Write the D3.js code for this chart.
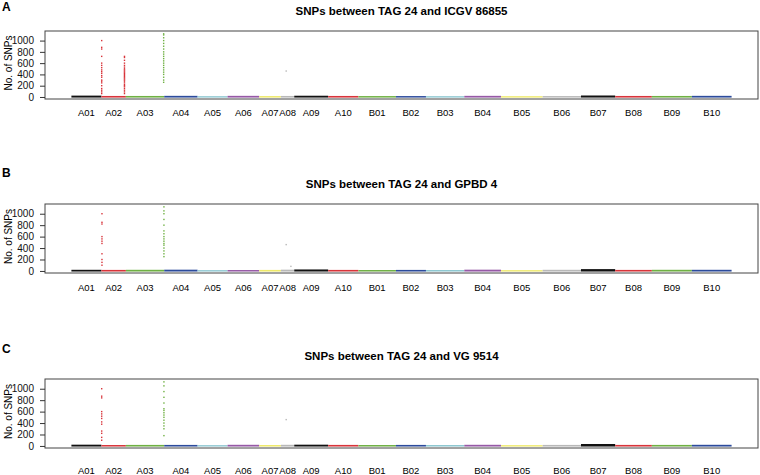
<!DOCTYPE html>
<html>
<head>
<meta charset="utf-8">
<script src="https://cdn.jsdelivr.net/npm/d3@7"></script>
<style>
  body { margin: 0; background: #fff; }
  svg { font-family: "Liberation Sans", Arial, Helvetica, sans-serif; }
  .axis path, .axis line { stroke: #333; }
  .axis text { font-size: 10px; fill: #111; }
</style>
</head>
<body>
<div id="chart"></div>
<script>
// chromosomes and their lengths (Mb)
const chroms = ["A01","A02","A03","A04","A05","A06","A07","A08","A09","A10",
                "B01","B02","B03","B04","B05","B06","B07","B08","B09","B10"];
const lengths = [108, 88, 138, 120, 108, 114, 78, 48, 122, 109,
                 135, 108, 138, 132, 150, 138, 123, 132, 144, 143];
const chromColors = ["#111111","#d8343a","#6fb043","#2c4b9c","#8cc6d0","#9659a6","#eee96a","#b8b8b8",
                     "#111111","#d8343a","#6fb043","#2c4b9c","#8cc6d0","#9659a6","#eee96a","#b8b8b8",
                     "#111111","#d8343a","#6fb043","#2c4b9c"];
const yTicks = [0, 200, 400, 600, 800, 1000];

// typical top of the low-count band per chromosome
const bandA = [24, 18, 18, 20, 14, 20, 16, 18, 22, 18, 16, 16, 14, 20, 14, 16, 26, 18, 18, 20];
const bandB = [20, 18, 20, 22, 14, 16, 18, 22, 26, 18, 16, 18, 16, 22, 14, 20, 32, 18, 20, 20];
const bandC = [22, 16, 18, 18, 14, 20, 16, 20, 22, 18, 16, 18, 16, 20, 14, 18, 34, 18, 18, 20];

// outlier bins: chromosome, position in Mb, SNP count
const spikesA = [
  ["A02", 1, 1000], ["A02", 1, 880], ["A02", 1, 850], ["A02", 1, 720], ["A02", 1, 600],
  ["A02", 1, 560], ["A02", 1, 520], ["A02", 1, 480], ["A02", 1, 450], ["A02", 1, 420],
  ["A02", 1, 380], ["A02", 1, 350], ["A02", 1, 300], ["A02", 1, 280], ["A02", 1, 250],
  ["A02", 1, 200], ["A02", 1, 150], ["A02", 1, 120], ["A02", 1, 90], ["A02", 1, 60],
  ["A02", 83, 720], ["A02", 83, 700], ["A02", 83, 650], ["A02", 83, 600], ["A02", 83, 560],
  ["A02", 83, 530], ["A02", 83, 500], ["A02", 83, 480], ["A02", 83, 460], ["A02", 83, 440],
  ["A02", 83, 420], ["A02", 83, 400], ["A02", 83, 380], ["A02", 83, 360], ["A02", 83, 340],
  ["A02", 83, 320], ["A02", 83, 300], ["A02", 83, 280], ["A02", 83, 250], ["A02", 83, 220],
  ["A02", 83, 200], ["A02", 83, 180], ["A02", 83, 150], ["A02", 83, 120], ["A02", 83, 90],
  ["A02", 83, 60],
  ["A03", 136, 1120], ["A03", 136, 1100], ["A03", 136, 1050], ["A03", 136, 1000], ["A03", 136, 950],
  ["A03", 136, 900], ["A03", 136, 850], ["A03", 136, 800], ["A03", 136, 760], ["A03", 136, 720],
  ["A03", 136, 680], ["A03", 136, 640], ["A03", 136, 600], ["A03", 136, 560], ["A03", 136, 520],
  ["A03", 136, 480], ["A03", 136, 440], ["A03", 136, 400], ["A03", 136, 350], ["A03", 136, 300],
  ["A03", 136, 260],
  ["A08", 19, 460]
];
const spikesB = [
  ["A02", 2, 1000], ["A02", 2, 850], ["A02", 2, 820], ["A02", 2, 600], ["A02", 2, 560],
  ["A02", 2, 520], ["A02", 2, 480], ["A02", 2, 300], ["A02", 2, 200], ["A02", 2, 150],
  ["A02", 2, 100],
  ["A03", 137, 1120], ["A03", 137, 1050], ["A03", 137, 1000], ["A03", 137, 900], ["A03", 137, 800],
  ["A03", 137, 700], ["A03", 137, 650], ["A03", 137, 600], ["A03", 137, 560], ["A03", 137, 520],
  ["A03", 137, 480], ["A03", 137, 450], ["A03", 137, 400], ["A03", 137, 350], ["A03", 137, 300],
  ["A03", 137, 250],
  ["A08", 19, 460], ["A08", 36, 80]
];
const spikesC = [
  ["A02", 1, 1000], ["A02", 1, 870], ["A02", 1, 840], ["A02", 1, 600], ["A02", 1, 560],
  ["A02", 1, 520], ["A02", 1, 480], ["A02", 1, 420], ["A02", 1, 380], ["A02", 1, 260],
  ["A02", 1, 220], ["A02", 1, 150], ["A02", 1, 100],
  ["A03", 137, 1120], ["A03", 137, 1050], ["A03", 137, 950], ["A03", 137, 850], ["A03", 137, 750],
  ["A03", 137, 650], ["A03", 137, 620], ["A03", 137, 580], ["A03", 137, 540], ["A03", 137, 500],
  ["A03", 137, 450], ["A03", 137, 400], ["A03", 137, 350], ["A03", 137, 300], ["A03", 137, 180],
  ["A08", 19, 460]
];

const titles = ["SNPs between TAG 24 and ICGV 86855",
                "SNPs between TAG 24 and GPBD 4",
                "SNPs between TAG 24 and VG 9514"];
const letters = ["A", "B", "C"];

// cumulative starts of chromosomes
let starts = [];
let acc = 0;
lengths.forEach(l => { starts.push(acc); acc += l; });
const total = acc;

const W = 760, H = 475;
const svg = d3.select("#chart").append("svg")
  .attr("width", W).attr("height", H);

// panel layout
const layout = [
  {top: 31, bottom: 99, letterY: 11, titleY: 15, labelY: 116},
  {top: 204, bottom: 273, letterY: 177, titleY: 188, labelY: 291},
  {top: 379, bottom: 448, letterY: 353, titleY: 360, labelY: 474}
];
const left = 45, right = 758;

const pad = total * 0.04;
const x = d3.scaleLinear().domain([-pad, total + pad]).range([left, right]);

const bands = [bandA, bandB, bandC];
const spikes = [spikesA, spikesB, spikesC];

layout.forEach((p, i) => {
  const g = svg.append("g");
  const y = d3.scaleLinear().domain([-36, 1170]).range([p.bottom, p.top]);

  g.append("text")
    .attr("x", 2).attr("y", p.letterY)
    .attr("font-size", 12).attr("font-weight", "bold")
    .text(letters[i]);

  g.append("text")
    .attr("x", (left + right) / 2).attr("y", p.titleY)
    .attr("text-anchor", "middle")
    .attr("font-size", 11.5).attr("font-weight", "bold")
    .text(titles[i]);

  // low-count band per chromosome
  g.selectAll(".band")
    .data(chroms)
    .enter().append("rect")
    .attr("x", (d, j) => x(starts[j]))
    .attr("width", (d, j) => x(starts[j] + lengths[j]) - x(starts[j]))
    .attr("y", (d, j) => y(bands[i][j]))
    .attr("height", (d, j) => y(0) - y(bands[i][j]) + 0.6)
    .attr("fill", (d, j) => chromColors[j]);

  // outlier points
  g.selectAll(".pt")
    .data(spikes[i])
    .enter().append("rect")
    .attr("x", d => x(starts[chroms.indexOf(d[0])] + d[1]) - 0.7)
    .attr("y", d => y(d[2]) - 0.7)
    .attr("width", 1.4).attr("height", 1.4)
    .attr("fill", d => chromColors[chroms.indexOf(d[0])]);

  // frame
  g.append("rect")
    .attr("x", left).attr("y", p.top)
    .attr("width", right - left).attr("height", p.bottom - p.top)
    .attr("fill", "none").attr("stroke", "#444").attr("stroke-width", 1);

  const yAxis = d3.axisLeft(y).tickValues(yTicks).tickFormat(d3.format("d"))
    .tickSize(5).tickPadding(6).tickSizeOuter(0);
  const ax = g.append("g")
    .attr("class", "axis")
    .attr("transform", "translate(" + left + ",0)")
    .call(yAxis);
  ax.select(".domain").remove();

  g.append("text")
    .attr("transform", "translate(12," + ((p.top + p.bottom) / 2 - 2) + ") rotate(-90)")
    .attr("text-anchor", "middle")
    .attr("font-size", 10)
    .text("No. of SNPs");

  // chromosome labels
  g.selectAll(".lab")
    .data(chroms)
    .enter().append("text")
    .attr("x", (d, j) => x(starts[j] + lengths[j] / 2))
    .attr("y", p.labelY)
    .attr("text-anchor", "middle")
    .attr("font-size", 9.5)
    .text(d => d);
});
</script>
</body>
</html>
